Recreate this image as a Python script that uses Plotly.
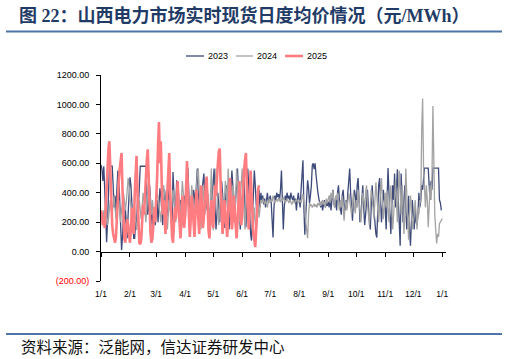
import plotly.graph_objects as go

# ---------------- data (daily real-time spot average price, 元/MWh) ----------------
tick_days = [0, 31, 59, 90, 120, 151, 181, 212, 243, 273, 304, 334, 365]
tick_labels = ["1/1", "2/1", "3/1", "4/1", "5/1", "6/1", "7/1", "8/1", "9/1",
               "10/1", "11/1", "12/1", "1/1"]
y_ticks = [-200, 0, 200, 400, 600, 800, 1000, 1200]
y_tick_labels = ['<span style="color:#FF0000">(200.00)</span>', "0.00", "200.00",
                 "400.00", "600.00", "800.00", "1000.00", "1200.00"]

price_2023_by_month = [
    [590, 560, 480, 580, 420, 150, 63, 200, 400, 580, 580, 580, 580, 450, 300, 380, 250, 420, 550, 520, 300, 120, 10, 100, 250, 150, 300, 200, 90, 250, 350],
    [505, 450, 300, 180, 90, 90, 200, 150, 350, 300, 450, 580, 580, 580, 580, 580, 580, 580, 400, 250, 300, 450, 350, 220, 150, 300, 250, 180],
    [250, 350, 200, 300, 430, 380, 250, 180, 300, 420, 350, 220, 280, 400, 460, 300, 200, 150, 540, 350, 250, 320, 485, 400, 280, 200, 350, 300, 180, 250, 380],
    [300, 400, 450, 570, 400, 200, 250, 350, 300, 420, 380, 280, 450, 565, 400, 300, 250, 350, 420, 480, 530, 380, 280, 320, 400, 300, 250, 200, 300, 420],
    [500, 565, 300, 150, 250, 400, 300, 200, 350, 480, 400, 250, 160, 300, 450, 380, 250, 150, 280, 400, 550, 450, 300, 200, 350, 500, 565, 400, 250, 150, 300],
    [350, 500, 540, 300, 165, 350, 565, 450, 250, 120, 75, 200, 400, 550, 450, 300, 200, 350, 420, 300, 400, 350, 380, 320, 360, 300, 350, 400, 330, 360],
    [380, 340, 250, 95, 300, 380, 350, 400, 370, 390, 350, 420, 550, 380, 150, 300, 380, 350, 400, 360, 380, 340, 400, 370, 350, 380, 330, 360, 280, 350, 400],
    [350, 300, 420, 580, 620, 300, 115, 250, 400, 485, 430, 330, 380, 450, 585, 600, 560, 600, 520, 440, 400, 360, 320, 300, 340, 280, 320, 350, 300, 330, 310],
    [340, 300, 380, 280, 350, 420, 330, 300, 370, 280, 400, 450, 350, 300, 250, 380, 420, 320, 280, 350, 300, 400, 480, 565, 400, 300, 210, 350, 420, 380],
    [300, 450, 500, 350, 200, 250, 400, 450, 300, 180, 250, 380, 420, 300, 200, 150, 300, 450, 350, 250, 180, 120, 95, 300, 450, 500, 350, 200, 300, 420, 350],
    [300, 150, 350, 567, 400, 200, 120, 300, 450, 350, 530, 300, 450, 560, 350, 150, 40, 530, 400, 200, 350, 450, 300, 150, 250, 380, 150, 40, 200, 350],
    [250, 150, 300, 200, 180, 250, 400, 300, 350, 450, 420, 500, 567, 567, 567, 567, 567, 450, 350, 480, 420, 567, 567, 567, 567, 567, 567, 567, 350, 330, 280],
]

price_2024_by_month = [
    [210, 250, 200, 280, 230, 300, 250, 180, 220, 300, 350, 280, 250, 320, 380, 300, 220, 280, 300, 350, 250, 200, 280, 330, 400, 350, 280, 330, 420, 500, 450],
    [380, 300, 200, 150, 250, 300, 220, 150, 200, 300, 350, 280, 220, 300, 400, 350, 250, 200, 300, 450, 505, 400, 300, 250, 350, 300, 220, 280, 350],
    [400, 370, 300, 250, 200, 300, 380, 450, 400, 300, 200, 150, 250, 350, 300, 250, 330, 420, 380, 280, 200, 300, 450, 400, 300, 250, 350, 480, 400, 280, 200],
    [300, 420, 350, 250, 180, 300, 450, 380, 250, 200, 350, 480, 520, 565, 400, 250, 150, 300, 450, 350, 250, 300, 420, 380, 250, 200, 350, 565, 300, 145],
    [300, 480, 565, 400, 250, 180, 300, 450, 400, 250, 200, 350, 480, 420, 300, 565, 400, 250, 180, 300, 450, 400, 250, 350, 565, 450, 300, 200, 350, 480, 565],
    [400, 250, 150, 300, 450, 350, 250, 400, 480, 350, 250, 180, 300, 200, 125, 250, 350, 230, 320, 350, 330, 360, 340, 320, 350, 330, 300, 340, 360, 330],
    [350, 340, 380, 360, 330, 345, 355, 340, 365, 350, 335, 360, 345, 370, 350, 330, 340, 360, 345, 330, 350, 340, 320, 335, 350, 330, 340, 355, 345, 330, 340],
    [350, 330, 360, 390, 340, 300, 200, 120, 90, 250, 330, 310, 320, 300, 315, 325, 305, 320, 300, 330, 315, 340, 310, 330, 350, 320, 340, 300, 360, 330, 350],
    [380, 330, 400, 360, 415, 330, 300, 380, 350, 400, 320, 280, 350, 300, 380, 260, 210, 300, 350, 280, 330, 400, 350, 300, 250, 330, 400, 300, 260, 350],
    [300, 420, 350, 250, 200, 300, 400, 350, 280, 400, 450, 330, 250, 180, 300, 420, 380, 280, 220, 350, 470, 380, 250, 200, 300, 420, 500, 350, 220, 300, 400],
    [300, 415, 300, 200, 350, 450, 300, 150, 250, 400, 480, 350, 200, 400, 550, 400, 250, 450, 300, 120, 250, 565, 400, 200, 80, 250, 380, 300, 150, 200],
    [250, 350, 200, 150, 300, 250, 350, 330, 825, 1040, 575, 400, 300, 450, 350, 165, 300, 450, 350, 500, 990, 485, 250, 150, 55, 120, 100, 190, 200, 210, 225],
]

price_2025_by_month = [
    [280, 250, 180, 220, 160, 300, 420, 600, 700, 750, 520, 300, 180, 120, 90, 60, 100, 250, 350, 480, 560, 640, 670, 420, 200, 90, 60, 120, 220, 180, 100],
    [60, 150, 300, 200, 120, 380, 520, 650, 400, 150, 60, 50, 80, 200, 320, 250, 400, 550, 620, 695, 500, 250, 120, 60, 90, 180, 300, 200],
    [320, 500, 720, 880, 600, 750, 450, 250, 350, 200, 120, 280, 450, 600, 670, 400, 200, 100, 60, 150, 300, 220, 350, 480, 300, 150, 90, 200, 380, 280, 160],
    [250, 450, 615, 400, 200, 100, 220, 380, 300, 180, 100, 250, 420, 350, 200, 120, 280, 450, 300, 160, 230, 380, 450, 510, 300, 140, 90, 200, 350, 250],
    [160, 300, 450, 380, 520, 600, 680, 700, 450, 220, 120, 200, 350, 280, 160, 100, 250, 420, 500, 300, 150, 220, 380, 280, 130, 90, 200, 400, 480, 300, 180],
    [250, 420, 550, 620, 670, 450, 250, 150, 300, 550, 400, 200, 120, 80, 30, 150, 300, 420, 450],
]

series_names = ["2023", "2024", "2025"]

price_2023 = [v for m in price_2023_by_month for v in m]
price_2024 = [v for m in price_2024_by_month for v in m]
price_2025 = [v for m in price_2025_by_month for v in m]

# ---------------- layout geometry (pixels) ----------------
W, H = 507, 359
L, R, T, B = 101, 446, 75, 281


def px_x(x):
    return (x - L) / (R - L)


def px_y(y):
    return (B - y) / (B - T)


styles = {
    "2023": dict(color="#3D4A7A", width=1.3),
    "2024": dict(color="#A3A3A3", width=1.3),
    "2025": dict(color="#FF7C80", width=2.6),
}

fig = go.Figure()
for name, vals in zip(series_names, [price_2023, price_2024, price_2025]):
    fig.add_trace(go.Scatter(
        x=list(range(len(vals))), y=vals, mode="lines", name=name,
        line=dict(color=styles[name]["color"], width=styles[name]["width"]),
        hoverinfo="skip", showlegend=False,
    ))

# helper trace so the zero-crossing axis (x2) is drawn
fig.add_trace(go.Scatter(x=[0], y=[0], xaxis="x2", yaxis="y", mode="lines",
                         showlegend=False, hoverinfo="skip",
                         line=dict(width=0, color="rgba(0,0,0,0)")))

tick_font = dict(family="Liberation Sans, Arial, sans-serif", size=9, color="#000000")

fig.update_layout(
    width=W, height=H,
    margin=dict(l=L, r=W - R, t=T, b=H - B, pad=0),
    paper_bgcolor="white", plot_bgcolor="white",
    xaxis=dict(range=[0, 369], tickmode="array", tickvals=tick_days, ticktext=tick_labels,
               showgrid=False, zeroline=False, showline=False,
               ticks="outside", ticklen=5, tickcolor="rgba(0,0,0,0)",
               tickfont=dict(family="Liberation Sans, Arial, sans-serif", size=8.5, color="#000000")),
    xaxis2=dict(overlaying="x", matches="x", anchor="free", position=200 / 1400,
                showline=True, linecolor="#000000", linewidth=1,
                ticks="outside", ticklen=4, tickcolor="#000000", tickwidth=1,
                tickmode="array", tickvals=tick_days, showticklabels=False,
                showgrid=False, zeroline=False),
    yaxis=dict(range=[-200, 1200], tickmode="array", tickvals=y_ticks, ticktext=y_tick_labels,
               showline=True, linecolor="#000000", linewidth=1,
               ticks="outside", ticklen=4, tickcolor="#000000", ticklabelstandoff=5,
               showgrid=False, zeroline=False, tickfont=tick_font),
    showlegend=False,
)

# custom legend (short line samples + labels), laid out like the reference
legend_line_x = [(186, 204), (236, 253), (285, 303)]
legend_y = 56
for name, (x0, x1) in zip(series_names, legend_line_x):
    fig.add_shape(type="line", xref="paper", yref="paper",
                  x0=px_x(x0), x1=px_x(x1), y0=px_y(legend_y), y1=px_y(legend_y),
                  line=dict(color=styles[name]["color"], width=styles[name]["width"]))
    fig.add_annotation(text=name, xref="paper", yref="paper",
                       x=px_x(x1 + 2), y=px_y(legend_y), xanchor="left", yanchor="middle",
                       showarrow=False,
                       font=dict(family="Liberation Sans, Arial, sans-serif", size=9, color="#000000"))

# title, source and rules
fig.add_annotation(
    text="<b>图 22：山西电力市场实时现货日度均价情况（元/MWh）</b>",
    xref="paper", yref="paper", x=px_x(17), y=px_y(16), xanchor="left", yanchor="middle",
    showarrow=False,
    font=dict(family="Liberation Serif, Noto Sans CJK SC, serif", size=18, color="#1F3B66"),
)
fig.add_annotation(
    text="资料来源：泛能网，信达证券研发中心",
    xref="paper", yref="paper", x=px_x(19), y=px_y(346), xanchor="left", yanchor="middle",
    showarrow=False,
    font=dict(family="Noto Sans CJK SC, sans-serif", size=15.5, color="#111111"),
)
for yy in (31.5, 334):
    fig.add_shape(type="line", xref="paper", yref="paper",
                  x0=px_x(6), x1=px_x(502), y0=px_y(yy), y1=px_y(yy),
                  line=dict(color="#4F74A8", width=2))

fig.write_html("out.html", config={"displayModeBar": False},
               post_script="document.body.style.margin='0';document.body.style.padding='0';")
